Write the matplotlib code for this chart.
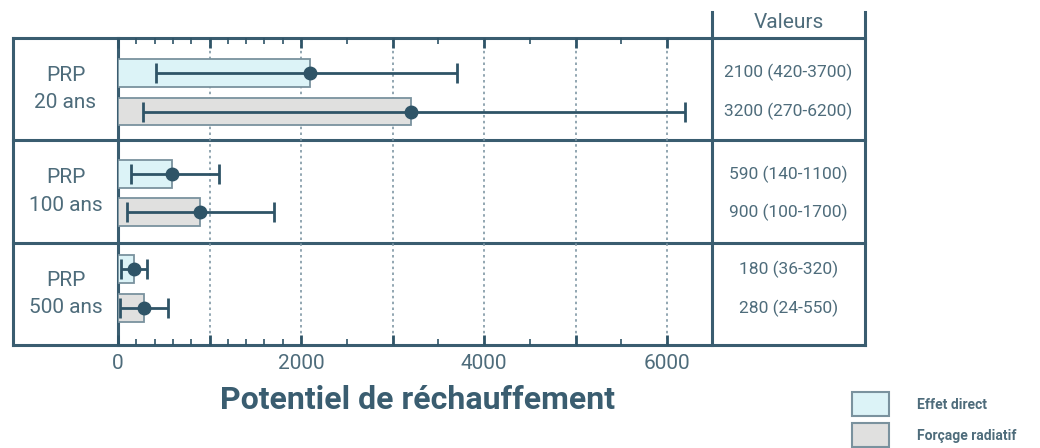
import matplotlib.pyplot as plt
import matplotlib.transforms as mtransforms
from matplotlib.ticker import FixedLocator
from matplotlib.patches import Rectangle

plt.rcParams['font.family'] = ['Roboto', 'DejaVu Sans']

# data
groups = ["PRP\n20 ans", "PRP\n100 ans", "PRP\n500 ans"]
direct = [2100, 590, 180]
direct_lo = [420, 140, 36]
direct_hi = [3700, 1100, 320]
forcing = [3200, 900, 280]
forcing_lo = [270, 100, 24]
forcing_hi = [6200, 1700, 550]
xticks = [0, 2000, 4000, 6000]
legend_labels = ["Effet direct", "Forçage radiatif"]

# row centres (in group units) for the direct / forcing bars
y_direct = [0.34, 1.33, 2.26]
y_forcing = [0.72, 1.70, 2.64]

dark = '#2f5467'
frame = '#3a5d70'
txt = '#4e6c7b'
edge = '#7a929e'
fill_direct = '#dcf3f7'
fill_forcing = '#e0e0df'

W, H = 1040, 448
fig = plt.figure(figsize=(W / 100, H / 100), dpi=100)

# overlay in pixel coords for the table frame
ov = fig.add_axes([0, 0, 1, 1])
ov.set_xlim(0, W)
ov.set_ylim(H, 0)
ov.axis('off')

x0, x1, x2, x3 = 13, 118, 712, 865
ytop, ybot = 38, 345

ax = fig.add_axes([x1 / W, 1 - ybot / H, (x2 - x1) / W, (ybot - ytop) / H])
ax.set_xlim(0, 6490)
ax.set_ylim(3, 0)
ax.patch.set_alpha(0)

h = 0.27
ax.barh(y_direct, direct, height=h, color=fill_direct, edgecolor=edge, lw=1.3, zorder=2)
ax.barh(y_forcing, forcing, height=h, color=fill_forcing, edgecolor=edge, lw=1.3, zorder=2)
err_kw = dict(fmt='o', color=dark, ms=9, elinewidth=2, capsize=7.2, capthick=2, zorder=3)
ax.errorbar(direct, y_direct,
            xerr=[[v - lo for v, lo in zip(direct, direct_lo)],
                  [hi - v for v, hi in zip(direct, direct_hi)]], **err_kw)
ax.errorbar(forcing, y_forcing,
            xerr=[[v - lo for v, lo in zip(forcing, forcing_lo)],
                  [hi - v for v, hi in zip(forcing, forcing_hi)]], **err_kw)

for xv in range(1000, 7000, 1000):
    ax.axvline(xv, color='#7f97a4', lw=1.2, ls=(0, (1.5, 2)), zorder=1)

for s in ax.spines.values():
    s.set_visible(False)
ax.set_yticks([])
ax.xaxis.set_major_locator(FixedLocator(range(0, 7000, 1000)))
minor = list(range(200, 2000, 200)) + list(range(2500, 6500, 1000))
ax.xaxis.set_minor_locator(FixedLocator(minor))
ax.tick_params(axis='x', which='both', direction='in', top=True, bottom=True,
               color=dark, labelbottom=False)
ax.tick_params(axis='x', which='major', length=7, width=2)
ax.tick_params(axis='x', which='minor', length=4, width=1.2)

for t in xticks:
    ax.text(t, 3.09, str(t), ha='center', va='top', fontsize=15, color=txt)

# table frame
lw = 2.2
ov.plot([x0, x3], [ytop, ytop], color=frame, lw=lw)
ov.plot([x0, x3], [ybot, ybot], color=frame, lw=lw)
for yy in [140, 243]:
    ov.plot([x0, x3], [yy, yy], color=frame, lw=lw)
ov.plot([x0, x0], [ytop, ybot], color=frame, lw=lw)
ov.plot([x1, x1], [ytop, ybot], color=frame, lw=lw)
ov.plot([x2, x2], [12, ybot], color=frame, lw=lw)
ov.plot([x3, x3], [12, ybot], color=frame, lw=lw)
ov.text((x2 + x3) / 2, 22, "Valeurs", ha='center', va='center', fontsize=15, color=txt)

tr_left = mtransforms.blended_transform_factory(ov.transData, ax.transData)
for i, g in enumerate(groups):
    ov.text((x0 + x1) / 2, i + 0.5, g, ha='center', va='center', fontsize=15,
            color=txt, transform=tr_left, linespacing=1.55)
    ov.text((x2 + x3) / 2, y_direct[i], f"{direct[i]} ({direct_lo[i]}-{direct_hi[i]})",
            ha='center', va='center', fontsize=12.5, color=txt, transform=tr_left)
    ov.text((x2 + x3) / 2, y_forcing[i], f"{forcing[i]} ({forcing_lo[i]}-{forcing_hi[i]})",
            ha='center', va='center', fontsize=12.5, color=txt, transform=tr_left)

ov.text(418, 400, "Potentiel de réchauffement", ha='center', va='center',
        fontsize=23, fontweight='bold', color=frame)

# legend
for j, (lab, fc) in enumerate(zip(legend_labels, [fill_direct, fill_forcing])):
    yy = 392 + j * 31
    ov.add_patch(Rectangle((852, yy), 37, 24, facecolor=fc, edgecolor=edge, lw=1.5))
    ov.text(917, yy + 13, lab, ha='left', va='center', fontsize=10, color=txt,
            fontweight='bold')

fig.savefig('out.png', dpi=100)
